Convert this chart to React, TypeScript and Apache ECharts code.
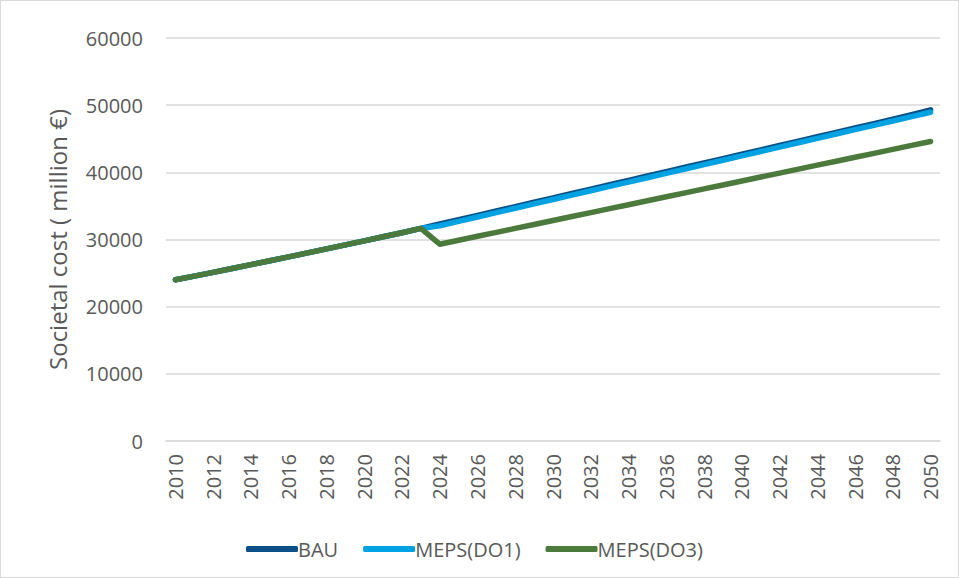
import React, { useEffect, useRef } from "react";
import * as echarts from "echarts";

const years: string[] = [
  "2010","2011","2012","2013","2014","2015","2016","2017","2018","2019",
  "2020","2021","2022","2023","2024","2025","2026","2027","2028","2029",
  "2030","2031","2032","2033","2034","2035","2036","2037","2038","2039",
  "2040","2041","2042","2043","2044","2045","2046","2047","2048","2049","2050",
];

const bau: number[] = [
  24000, 24550, 25100, 25680, 26260, 26840, 27420, 28010, 28600, 29200,
  29800, 30400, 31000, 31650, 32300, 32950, 33600, 34250, 34900, 35550,
  36200, 36850, 37500, 38150, 38800, 39450, 40100, 40750, 41400, 42050,
  42700, 43350, 44000, 44650, 45300, 45950, 46600, 47250, 47900, 48600, 49300,
];

const mepsDo1: number[] = [
  24000, 24550, 25100, 25680, 26260, 26840, 27420, 28010, 28600, 29200,
  29800, 30400, 31000, 31650, 32050, 32700, 33350, 34000, 34650, 35300,
  35950, 36600, 37250, 37900, 38550, 39200, 39850, 40500, 41150, 41800,
  42450, 43100, 43750, 44400, 45050, 45700, 46350, 47000, 47650, 48300, 48950,
];

const mepsDo3: number[] = [
  24000, 24550, 25100, 25680, 26260, 26840, 27420, 28010, 28600, 29200,
  29800, 30400, 31000, 31650, 29300, 29890, 30480, 31060, 31650, 32240,
  32830, 33420, 34000, 34590, 35180, 35770, 36360, 36950, 37540, 38120,
  38710, 39300, 39890, 40480, 41070, 41650, 42240, 42830, 43420, 44010, 44600,
];

const seriesNames = ["BAU", "MEPS(DO1)", "MEPS(DO3)"];
const seriesColors = ["#0B4F86", "#00A2E1", "#4B7A3C"];

export default function App() {
  const ref = useRef<HTMLDivElement>(null);
  useEffect(() => {
    if (!ref.current) return;
    const chart = echarts.init(ref.current, undefined, { renderer: "svg" });
    const font = "'Open Sans', sans-serif";
    const data = [bau, mepsDo1, mepsDo3];
    chart.setOption({
      animation: false,
      textStyle: { fontFamily: font },
      grid: { left: 165, right: 18, top: 37, bottom: 136, containLabel: false },
      legend: {
        top: 533,
        left: 240,
        itemGap: 25,
        itemWidth: 52,
        itemHeight: 6,
        icon: "roundRect",
        textStyle: { color: "#595959", fontSize: 20, fontFamily: font, padding: [0, 0, 0, -5] },
        data: seriesNames,
      },
      xAxis: {
        type: "category",
        data: years,
        boundaryGap: true,
        axisLine: { lineStyle: { color: "#d9d9d9", width: 1.5 } },
        axisTick: { show: false },
        axisLabel: {
          interval: 1,
          rotate: 90,
          color: "#595959",
          fontSize: 20,
          margin: 13,
          fontFamily: font,
        },
      },
      yAxis: {
        type: "value",
        min: 0,
        max: 60000,
        interval: 10000,
        name: "Societal cost ( million €)",
        nameLocation: "middle",
        nameGap: 97,
        nameTextStyle: { color: "#595959", fontSize: 24, fontFamily: font },
        axisLine: { show: false },
        axisTick: { show: false },
        axisLabel: {
          color: "#595959",
          fontSize: 20,
          margin: 23,
          fontFamily: font,
          formatter: (v: number) => String(v),
        },
        splitLine: { lineStyle: { color: "#d9d9d9", width: 1.5 } },
      },
      series: seriesNames.map((n, i) => ({
        name: n,
        type: "line",
        data: data[i],
        showSymbol: false,
        symbol: "none",
        lineStyle: { color: seriesColors[i], width: 5.5, cap: "round", join: "round" },
        itemStyle: { color: seriesColors[i] },
      })),
    });
    return () => chart.dispose();
  }, []);
  return (
    <div
      style={{
        position: "fixed",
        left: 0,
        top: 0,
        width: 959,
        height: 578,
        boxSizing: "border-box",
        border: "1px solid #d9d9d9",
        background: "#fff",
      }}
    >
      <div ref={ref} style={{ width: 957, height: 576 }} />
    </div>
  );
}
